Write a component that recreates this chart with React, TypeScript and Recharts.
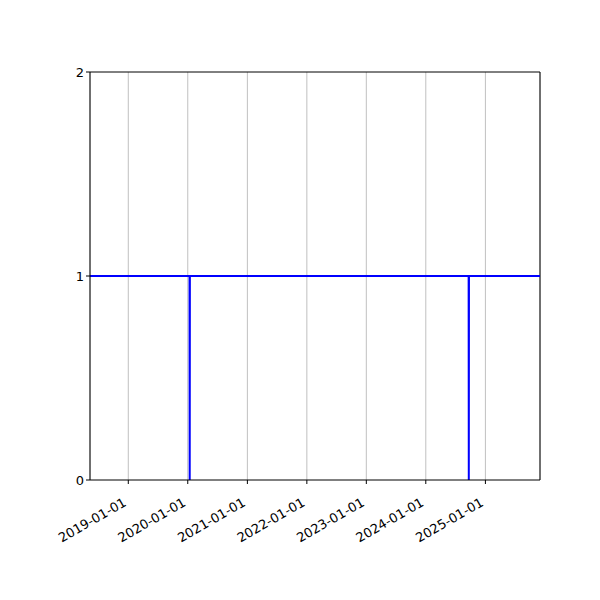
import { LineChart, Line, XAxis, YAxis, CartesianGrid, ReferenceLine } from 'recharts';

// status series (value 1 with two one-day drops to 0)
const dates = [
  '2018-05-11',
  '2020-01-12',
  '2020-01-13',
  '2020-01-14',
  '2024-09-20',
  '2024-09-21',
  '2024-09-22',
  '2025-12-02',
];
const values = [1, 1, 0, 1, 1, 0, 1, 1];

const xTickLabels = [
  '2019-01-01',
  '2020-01-01',
  '2021-01-01',
  '2022-01-01',
  '2023-01-01',
  '2024-01-01',
  '2025-01-01',
];
const yTicks = [0, 1, 2];

const toTime = (s: string) => new Date(s + 'T00:00:00Z').getTime();

const data = dates.map((d, i) => ({ t: toTime(d), value: values[i] }));
const xTicks = xTickLabels.map(toTime);
const xDomain = [toTime(dates[0]), toTime(dates[dates.length - 1])];

const fmt = (t: number) => new Date(t).toISOString().slice(0, 10);

const font = 'DejaVu Sans, sans-serif';

function RotatedTick({ x, y, payload }: any) {
  return (
    <g transform={`translate(${x - 1},${y + 19})`}>
      <text
        x={0}
        y={0}
        textAnchor="end"
        transform="rotate(-30)"
        fill="#000"
        fontSize={13}
        fontFamily={font}
      >
        {fmt(payload.value)}
      </text>
    </g>
  );
}

export default function App() {
  return (
    <div style={{ position: 'absolute', left: 0, top: 0, background: '#fff' }}>
      <LineChart
        width={600}
        height={600}
        data={data}
        margin={{ top: 72, right: 60, bottom: 60, left: 50 }}
      >
        <CartesianGrid
          xAxisId="main"
          yAxisId="main"
          vertical
          horizontal={false}
          stroke="#b0b0b0"
          strokeWidth={0.8}
        />
        <XAxis
          xAxisId="main"
          dataKey="t"
          type="number"
          scale="time"
          domain={xDomain}
          allowDataOverflow
          ticks={xTicks}
          tick={<RotatedTick />}
          tickLine={{ stroke: '#000' }}
          tickSize={4}
          axisLine={{ stroke: '#000' }}
          height={60}
          interval={0}
        />
        <YAxis
          yAxisId="main"
          domain={[0, 2]}
          ticks={yTicks}
          tick={{ fill: '#000', fontSize: 13, fontFamily: font }}
          tickLine={{ stroke: '#000' }}
          tickSize={4}
          axisLine={{ stroke: '#000' }}
          width={40}
          interval={0}
        />
        <ReferenceLine xAxisId="main" yAxisId="main" y={2} stroke="#000" />
        <ReferenceLine xAxisId="main" yAxisId="main" x={xDomain[1]} stroke="#000" />
        <Line
          xAxisId="main"
          yAxisId="main"
          type="linear"
          dataKey="value"
          stroke="#0000ff"
          strokeWidth={2}
          dot={false}
          activeDot={false}
          isAnimationActive={false}
        />
      </LineChart>
    </div>
  );
}
